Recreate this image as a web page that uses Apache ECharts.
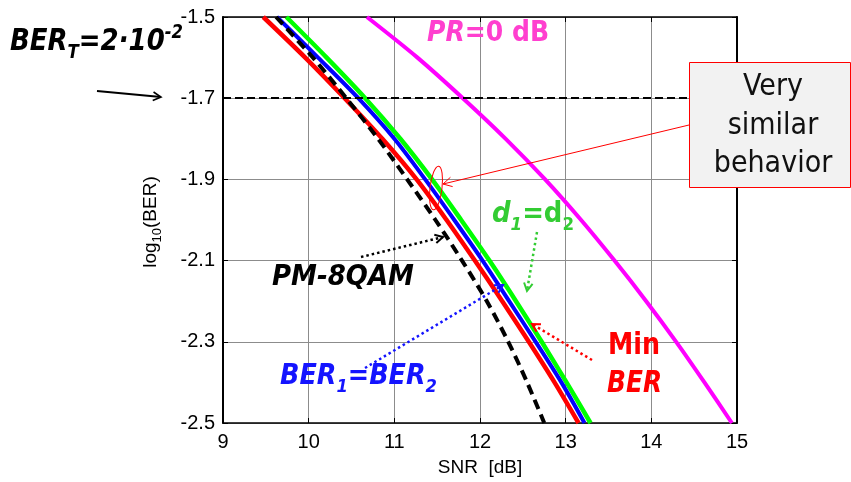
<!DOCTYPE html>
<html>
<head>
<meta charset="utf-8">
<script src="https://cdn.jsdelivr.net/npm/echarts@6/dist/echarts.min.js"></script>
<style>
  html, body { margin: 0; padding: 0; background: #fff; }
  #chart { width: 851px; height: 482px; }
</style>
</head>
<body>
<div id="chart"></div>
<script>
// log10(BER) levels at which each curve's SNR was sampled
const logBerLevels = [-1.5, -1.6, -1.7, -1.8, -1.9, -2.0, -2.1, -2.2, -2.3, -2.4, -2.5];

// SNR [dB] reaching each level, per strategy
const snrMinBer   = [9.47, 9.96, 10.42, 10.86, 11.26, 11.61, 11.94, 12.26, 12.57, 12.87, 13.15];
const snrEqualBer = [9.63, 10.11, 10.58, 11.00, 11.36, 11.70, 12.03, 12.34, 12.65, 12.95, 13.22];
const snrEqualD   = [9.74, 10.21, 10.66, 11.07, 11.44, 11.78, 12.11, 12.42, 12.72, 13.01, 13.29];
const snrPm8qam   = [9.62, 10.05, 10.44, 10.81, 11.15, 11.48, 11.79, 12.08, 12.33, 12.55, 12.75];
const snrPr0dB    = [10.68, 11.27, 11.80, 12.30, 12.76, 13.18, 13.57, 13.94, 14.29, 14.62, 14.94];

// target BER = 2e-2
const berThreshold = -1.7;

// axis ticks
const snrTicks = [9, 10, 11, 12, 13, 14, 15];
const logBerTicks = [-2.5, -2.3, -2.1, -1.9, -1.7, -1.5];

const pairs = xs => logBerLevels.map((y, i) => [xs[i], y]);

const axisFont = '"Liberation Sans", Arial, sans-serif';
const noteFont = '"DejaVu Sans", Verdana, sans-serif';
const gridColor = '#8c8c8c';

const chart = echarts.init(document.getElementById('chart'), null, { renderer: 'canvas' });

function curve(name, xs, color, width, dash, z) {
  return {
    name, type: 'line', data: pairs(xs), xAxisIndex: 0, yAxisIndex: 0,
    showSymbol: false, symbol: 'none', smooth: 0.3,
    lineStyle: { color, width, type: dash || 'solid', cap: 'butt' },
    z, silent: true
  };
}

const option = {
  animation: false,
  backgroundColor: '#ffffff',
  grid: { left: 223, right: 114, top: 17, bottom: 59, outerBoundsMode: 'none' },
  xAxis: [
    {
      type: 'value', min: snrTicks[0], max: snrTicks[snrTicks.length - 1], interval: 1,
      position: 'bottom',
      name: 'SNR  [dB]', nameLocation: 'middle', nameGap: 35,
      nameTextStyle: { fontSize: 19, color: '#000', fontFamily: axisFont },
      axisLine: { show: true, onZero: false, lineStyle: { color: '#000', width: 1.5 } },
      axisTick: { show: true, inside: true, length: 5, lineStyle: { color: '#000', width: 1 } },
      axisLabel: { fontSize: 20, color: '#000', fontFamily: axisFont, margin: 9 },
      splitLine: { show: true, lineStyle: { color: gridColor, width: 1 } }
    },
    {
      type: 'value', min: snrTicks[0], max: snrTicks[snrTicks.length - 1], interval: 1,
      position: 'top',
      axisLine: { show: true, onZero: false, lineStyle: { color: '#000', width: 1.5 } },
      axisTick: { show: true, inside: true, length: 5, lineStyle: { color: '#000', width: 1 } },
      axisLabel: { show: false },
      splitLine: { show: false }
    }
  ],
  yAxis: [
    {
      type: 'value', min: -2.5, max: -1.5, position: 'left',
      axisLine: { show: true, onZero: false, lineStyle: { color: '#000', width: 2 } },
      axisTick: { show: true, inside: true, length: 5, customValues: logBerTicks, lineStyle: { color: '#000', width: 1 } },
      axisLabel: {
        customValues: logBerTicks, formatter: v => Number(v).toFixed(1),
        fontSize: 20, color: '#000', fontFamily: axisFont, margin: 8
      },
      splitLine: { show: true, lineStyle: { color: gridColor, width: 1 } }
    },
    {
      type: 'value', min: -2.5, max: -1.5, position: 'right',
      axisLine: { show: true, onZero: false, lineStyle: { color: '#000', width: 2 } },
      axisTick: { show: true, inside: true, length: 5, customValues: logBerTicks, lineStyle: { color: '#000', width: 1 } },
      axisLabel: { show: false },
      splitLine: { show: false }
    }
  ],
  series: [
    curve('d1=d2', snrEqualD, '#00ff00', 4.5, null, 2),
    curve('BER1=BER2', snrEqualBer, '#0000ff', 4, null, 3),
    curve('Min BER', snrMinBer, '#ff0000', 4.5, null, 4),
    curve('PR=0 dB', snrPr0dB, '#ff00ff', 4, null, 4),
    Object.assign(curve('PM-8QAM', snrPm8qam, '#000000', 4, [10, 6], 5), {
      markLine: {
        silent: true, symbol: 'none', label: { show: false },
        lineStyle: { color: '#000', width: 2, type: [8, 4] },
        data: [{ yAxis: berThreshold }]
      }
    })
  ]
};

chart.setOption(option);

// ---------- annotations ----------
const measureCtx = document.createElement('canvas').getContext('2d');
function textWidth(t, size, bold, italic, family) {
  measureCtx.font = `${italic ? 'italic' : 'normal'} ${bold ? 'bold' : 'normal'} ${size}px ${family || noteFont}`;
  return measureCtx.measureText(t).width;
}

// Mixed-size text run (subscripts / superscripts), placed by baseline.
function textRun(x, baseY, parts, o) {
  let total = 0;
  parts.forEach(p => { p.w = textWidth(p.t, p.s, p.b, p.i, p.f); total += p.w; });
  const sx = o.width ? o.width / total : (o.sx || 1);
  let cur = o.align === 'center' ? -total / 2 : 0;
  const children = parts.map(p => {
    const el = {
      type: 'text', x: cur, y: (p.dy || 0) - 0.35 * p.s, z: 110,
      style: {
        text: p.t, fill: o.color || '#000',
        font: `${p.i ? 'italic' : 'normal'} ${p.b ? 'bold' : 'normal'} ${p.s}px ${p.f || noteFont}`,
        align: 'left', verticalAlign: 'middle'
      }
    };
    cur += p.w;
    return el;
  });
  return { type: 'group', x, y: baseY, scaleX: sx, rotation: o.rotation || 0, children, z: 110 };
}

function arrow(x1, y1, x2, y2, color, width, dash, head) {
  const a = Math.atan2(y2 - y1, x2 - x1);
  const h = head || 9;
  const p1 = [x2 - h * Math.cos(a - 0.5), y2 - h * Math.sin(a - 0.5)];
  const p2 = [x2 - h * Math.cos(a + 0.5), y2 - h * Math.sin(a + 0.5)];
  return [
    { type: 'line', z: 105, shape: { x1, y1, x2, y2 }, style: { stroke: color, lineWidth: width, lineDash: dash || null } },
    { type: 'polyline', z: 105, shape: { points: [p1, [x2, y2], p2] }, style: { stroke: color, lineWidth: Math.max(1, width * 0.8), fill: null } }
  ];
}

const B = true, I = true;
const graphics = [
  // y-axis title
  textRun(157, 222, [
    { t: 'log', s: 19, f: axisFont },
    { t: '10', s: 13, f: axisFont, dy: 5 },
    { t: '(BER)', s: 19, f: axisFont }
  ], { align: 'center', rotation: Math.PI / 2, color: '#000' }),

  // target BER label
  textRun(10, 53, [
    { t: 'BER', s: 30, b: B, i: I },
    { t: 'T', s: 19, b: B, i: I, dy: 7 },
    { t: '=2·10', s: 30, b: B, i: I },
    { t: '-2', s: 19, b: B, i: I, dy: -13 }
  ], { width: 173, color: '#000' }),
  ...arrow(97, 91, 161, 97, '#000', 2, null, 9),

  // curve labels
  textRun(427, 44, [
    { t: 'PR', s: 28, b: B, i: I },
    { t: '=0 dB', s: 28, b: B }
  ], { width: 122, color: '#ff3fcf' }),

  textRun(272, 288, [{ t: 'PM-8QAM', s: 28, b: B, i: I }], { width: 142, color: '#000' }),
  ...arrow(361, 257, 443, 237, '#000', 2.5, [2.5, 3], 9),

  textRun(280, 387, [
    { t: 'BER', s: 28, b: B, i: I },
    { t: '1', s: 18, b: B, i: I, dy: 7 },
    { t: '=BER', s: 28, b: B, i: I },
    { t: '2', s: 18, b: B, i: I, dy: 7 }
  ], { width: 157, color: '#1414ff' }),
  ...arrow(365, 368, 503, 285, '#1414ff', 2.5, [2.5, 3], 9),

  textRun(492, 225, [
    { t: 'd', s: 28, b: B, i: I },
    { t: '1', s: 18, b: B, i: I, dy: 7 },
    { t: '=d', s: 28, b: B },
    { t: '2', s: 18, b: B, dy: 7 }
  ], { width: 82, color: '#33cc33' }),
  ...arrow(537, 232, 527, 291, '#33cc33', 2.5, [2.5, 3], 9),

  textRun(608, 357, [{ t: 'Min', s: 30, b: B }], { width: 52, color: '#ff0000' }),
  textRun(607, 395, [{ t: 'BER', s: 30, b: B, i: I }], { width: 55, color: '#ff0000' }),
  ...arrow(592, 360, 532, 324, '#ff0000', 2.5, [2.5, 3], 9),

  // callout box
  { type: 'rect', z: 100, shape: { x: 689.5, y: 62.5, width: 161, height: 125 },
    style: { fill: '#f2f2f2', stroke: '#ff0000', lineWidth: 1 } },
  textRun(773, 98, [{ t: 'Very', s: 30 }], { sx: 0.9, align: 'center', color: '#111' }),
  textRun(773, 137, [{ t: 'similar', s: 30 }], { sx: 0.9, align: 'center', color: '#111' }),
  textRun(773, 175, [{ t: 'behavior', s: 30 }], { sx: 0.9, align: 'center', color: '#111' }),
  ...arrow(689, 125, 443, 184, '#ff0000', 1, null, 10),
  { type: 'ellipse', z: 105, rotation: -0.12, x: 436, y: 188,
    shape: { cx: 0, cy: 0, rx: 6, ry: 22 },
    style: { fill: null, stroke: '#ff0000', lineWidth: 1 } }
];

chart.setOption({ graphic: graphics });
</script>
</body>
</html>
